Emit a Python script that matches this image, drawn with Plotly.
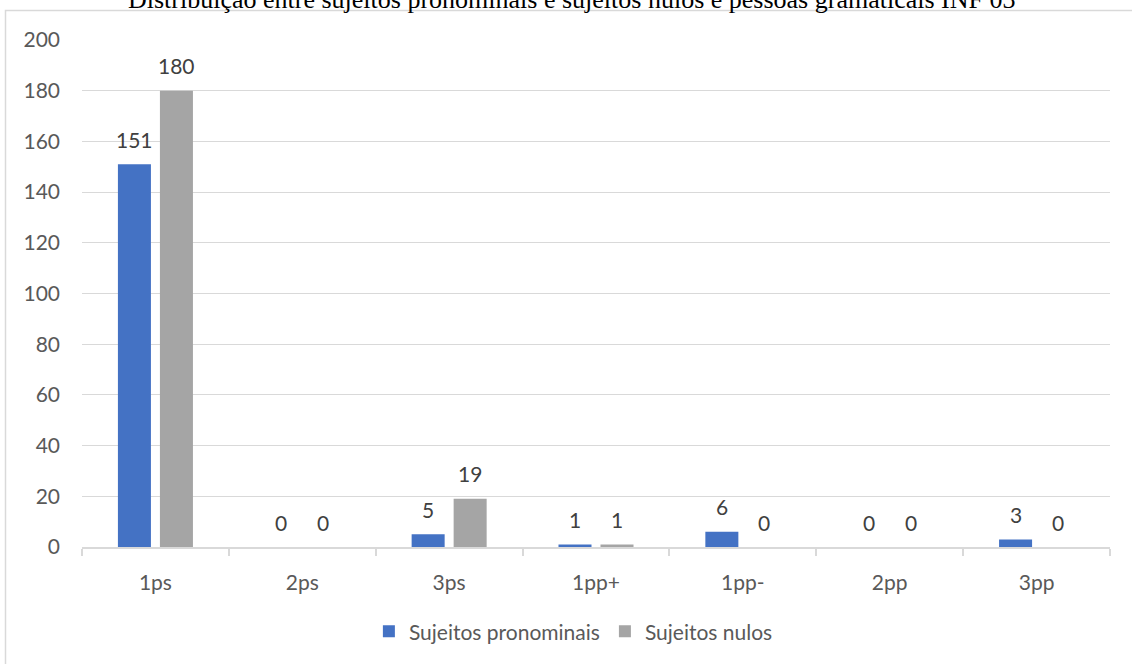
import plotly.graph_objects as go

# Categories (grammatical persons) and counts per subject type
categorias = ["1ps", "2ps", "3ps", "1pp+", "1pp-", "2pp", "3pp"]
sujeitos_pronominais = [151, 0, 5, 1, 6, 0, 3]
sujeitos_nulos = [180, 0, 19, 1, 0, 0, 0]
y_ticks = [0, 20, 40, 60, 80, 100, 120, 140, 160, 180, 200]

titulo = "Distribuição entre sujeitos pronominais e sujeitos nulos e pessoas gramaticais INF 03"

AZUL = "#4472C4"
CINZA = "#A5A5A5"
GRADE = "#D9D9D9"
FONTE = "Lato"
TAM = 21

W, H = 1132, 664
ML, MR, MT, MB = 82, 22, 40, 115
PW = W - ML - MR
PH = H - MT - MB

fig = go.Figure()
fig.add_trace(go.Bar(name="Sujeitos pronominais", x=categorias, y=sujeitos_pronominais,
                     marker=dict(color=AZUL, line=dict(width=0))))
fig.add_trace(go.Bar(name="Sujeitos nulos", x=categorias, y=sujeitos_nulos,
                     marker=dict(color=CINZA, line=dict(width=0))))

# value labels above each bar
cat_w = PW / len(categorias)
desloc = 0.143 * cat_w
for serie, dx in ((sujeitos_pronominais, -desloc), (sujeitos_nulos, desloc)):
    for c, v in zip(categorias, serie):
        fig.add_annotation(x=c, y=v, text=str(v), showarrow=False,
                           xshift=dx, yshift=25, yanchor="middle",
                           font=dict(family=FONTE, size=TAM, color="#404040"))

# chart title (runs past the top edge)
fig.add_annotation(xref="paper", yref="paper", x=(571 - ML) / PW,
                   y=(H - MB - 16) / PH, yanchor="bottom", text=titulo,
                   showarrow=False,
                   font=dict(family="Liberation Serif", size=26, color="black"))

# outer chart border
fig.add_shape(type="rect", xref="paper", yref="paper",
              x0=(5.5 - ML) / PW, x1=(W + 10 - ML) / PW,
              y0=-(H + 10 - (H - MB)) / PH, y1=((H - MB) - 10.5) / PH,
              line=dict(color=GRADE, width=1.5), fillcolor="rgba(0,0,0,0)", layer="below")

fig.update_layout(
    width=W, height=H,
    margin=dict(l=ML, r=MR, t=MT, b=MB),
    paper_bgcolor="white", plot_bgcolor="white",
    barmode="group", bargap=0.428, bargroupgap=0.214,
    showlegend=True,
    legend=dict(orientation="h", x=0.478, xanchor="center", y=-0.167, yanchor="middle",
                font=dict(family=FONTE, size=TAM, color="#595959"),
                itemsizing="constant", traceorder="normal"),
    font=dict(family=FONTE, size=TAM, color="#595959"),
)
fig.update_yaxes(range=[0, 200], tickvals=y_ticks, showgrid=True, gridcolor=GRADE,
                 gridwidth=1, zeroline=False, showline=False, ticks="",
                 ticklabelstandoff=21,
                 tickfont=dict(family=FONTE, size=TAM, color="#595959"))
fig.update_xaxes(showline=True, linecolor=GRADE, linewidth=1.5, ticks="outside",
                 tickson="boundaries", ticklen=7, tickcolor=GRADE, tickwidth=1.5,
                 ticklabelstandoff=16,
                 tickfont=dict(family=FONTE, size=TAM, color="#595959"))

fig.write_html("out.html")
